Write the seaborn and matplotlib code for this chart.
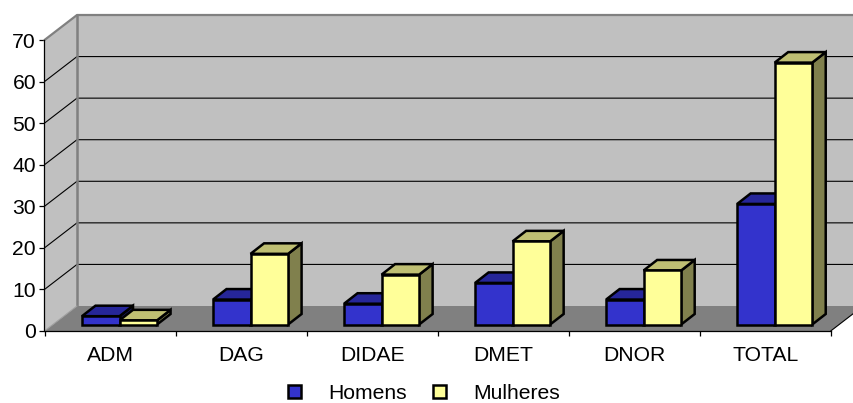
import pandas as pd
import seaborn as sns
import matplotlib.pyplot as plt
from matplotlib.patches import Polygon

categories = ['ADM', 'DAG', 'DIDAE', 'DMET', 'DNOR', 'TOTAL']
homens = [2, 6, 5, 10, 6, 29]
mulheres = [1, 17, 12, 20, 13, 63]
y_ticks = [0, 10, 20, 30, 40, 50, 60, 70]

colors = {'Homens': '#3333CC', 'Mulheres': '#FFFF99'}
top_colors = {'Homens': '#262699', 'Mulheres': '#BFBF73'}
side_colors = {'Homens': '#1A1A66', 'Mulheres': '#80804D'}

W, H = 854, 403
LEFT, RIGHT, TOP, BOTTOM = 44.5, 830.7, 40, 331
PX_X = (RIGHT - LEFT) / 6
PX_Y = (BOTTOM - TOP) / 70

sns.set_theme(style='white')
plt.rcParams['font.family'] = ['Liberation Sans', 'DejaVu Sans']
FONT = 15.2
BAR_LW = 1.8

df = pd.DataFrame({
    'categoria': categories * 2,
    'valor': homens + mulheres,
    'sexo': ['Homens'] * 6 + ['Mulheres'] * 6,
})

fig = plt.figure(figsize=(W / 100, H / 100), dpi=100)


def axes_at(dx=0, dy=0):
    return fig.add_axes([(LEFT + dx) / W, (H - BOTTOM + dy) / H,
                         (RIGHT - LEFT) / W, (BOTTOM - TOP) / H])


# front plane: walls, floor, grid and the real axis
ax = axes_at()
ax.set_xlim(-0.5, 5.5)
ax.set_ylim(0, 70)
ax.patch.set_visible(False)

wall_x = 32.5 / PX_X
wall_y = 25 / PX_Y
wall = '#C0C0C0'
edge = '#808080'

ax.add_patch(Polygon([(-0.5, 0), (-0.5 + wall_x, wall_y), (-0.5 + wall_x, 70 + wall_y), (-0.5, 70)],
                     fc=wall, ec='none', clip_on=False, zorder=0))
ax.add_patch(Polygon([(-0.5 + wall_x, wall_y), (5.5 + wall_x, wall_y), (5.5 + wall_x, 70 + wall_y), (-0.5 + wall_x, 70 + wall_y)],
                     fc=wall, ec='none', clip_on=False, zorder=0))
ax.add_patch(Polygon([(-0.5, 0), (5.5, 0), (5.5 + wall_x, wall_y), (-0.5 + wall_x, wall_y)],
                     fc=edge, ec='none', clip_on=False, zorder=0.5))

for v in y_ticks[1:-1]:
    ax.plot([-0.5, -0.5 + wall_x, 5.5 + wall_x], [v, v + wall_y, v + wall_y],
            color='black', lw=0.8, clip_on=False, zorder=1)

ax.plot([-0.5, -0.5 + wall_x, 5.5 + wall_x], [70, 70 + wall_y, 70 + wall_y],
        color=edge, lw=1.6, clip_on=False, zorder=1)
ax.plot([-0.5 + wall_x, -0.5 + wall_x], [wall_y, 70 + wall_y], color=edge, lw=1.8, clip_on=False, zorder=1)
ax.plot([-0.5, -0.5 + wall_x], [0, wall_y], color='#A0A0A0', lw=0.8, clip_on=False, zorder=1)
ax.plot([5.5, 5.5 + wall_x], [0, wall_y], color='black', lw=0.8, clip_on=False, zorder=1)

for side in ['top', 'right']:
    ax.spines[side].set_visible(False)
for side in ['left', 'bottom']:
    ax.spines[side].set_color('black')
    ax.spines[side].set_linewidth(0.9)

ax.set_yticks(y_ticks)
ax.set_xticks(range(6))
ax.set_xticklabels(categories)
ax.set_xticks([i - 0.5 for i in range(7)], minor=True)
ax.tick_params(axis='y', left=True, length=3.6, width=0.9, pad=2.5, labelsize=FONT, color='black', labelcolor='black')
ax.tick_params(axis='x', which='major', bottom=False, pad=4.5, labelsize=FONT, labelcolor='black')
ax.tick_params(axis='x', which='minor', bottom=True, length=3.6, width=0.9, color='black')

# bars sit a bit inside the floor, so they get their own shifted axes
bar_ax = axes_at(9.5, 6.5)
bar_ax.patch.set_visible(False)
sns.barplot(data=df, x='categoria', y='valor', hue='sexo', order=categories,
            palette=colors, width=0.573, gap=0, edgecolor='black', linewidth=BAR_LW,
            errorbar=None, saturation=1, ax=bar_ax)
bar_ax.set_xlim(-0.5, 5.5)
bar_ax.set_ylim(0, 70)
bar_ax.axis('off')

dx = 13.5 / PX_X
dy = 10.5 / PX_Y
for name, container in zip(['Homens', 'Mulheres'], bar_ax.containers):
    for bar in container:
        bar.set_zorder(4)
        bar.set_clip_on(False)
        x0 = bar.get_x()
        x1 = x0 + bar.get_width()
        h = bar.get_height()
        bar_ax.add_patch(Polygon([(x1, 0), (x1 + dx, dy), (x1 + dx, h + dy), (x1, h)],
                                 fc=side_colors[name], ec='black', lw=BAR_LW, clip_on=False,
                                 joinstyle='miter', zorder=3))
        bar_ax.add_patch(Polygon([(x0, h), (x0 + dx, h + dy), (x1 + dx, h + dy), (x1, h)],
                                 fc=top_colors[name], ec='black', lw=BAR_LW, clip_on=False,
                                 joinstyle='miter', zorder=3))

sns.move_legend(bar_ax, 'center', bbox_to_anchor=(424 / W, 1 - 393.5 / H),
                bbox_transform=fig.transFigure, ncol=2, frameon=False, title=None,
                fontsize=FONT, handlelength=0.62, handleheight=0.62,
                handletextpad=1.3, columnspacing=1.2, labelcolor='black')

fig.savefig('out.png', dpi=100)
